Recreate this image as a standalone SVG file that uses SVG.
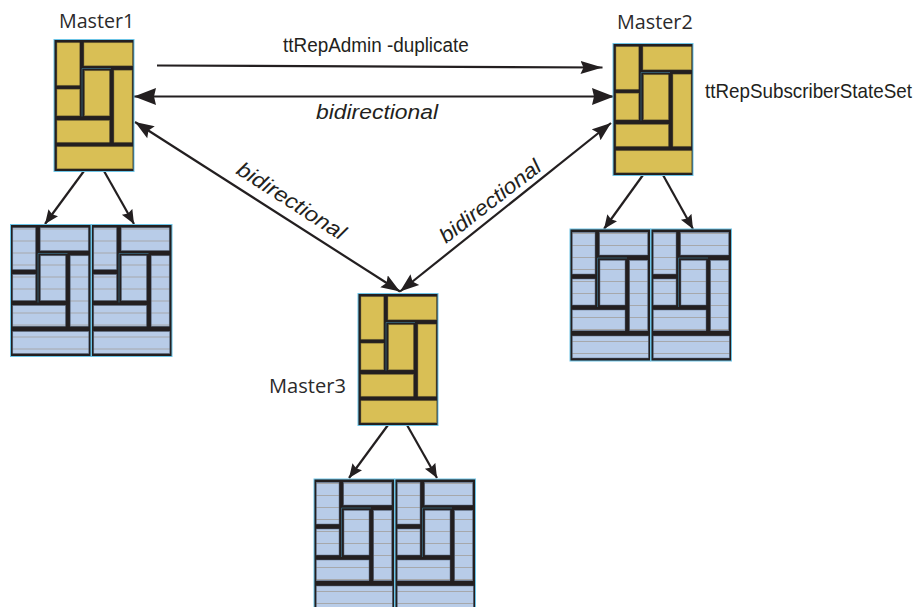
<svg xmlns="http://www.w3.org/2000/svg" xmlns:xlink="http://www.w3.org/1999/xlink" width="915" height="607" viewBox="0 0 915 607">
<style>
.lb{font-family:"Open Sans","Noto Sans",sans-serif;font-size:20.500px;fill:#2b2a2b}
.hv{font-family:"Liberation Sans",Arial,sans-serif;font-size:20px;fill:#231f20}
.it{font-family:"Liberation Sans",Arial,sans-serif;font-size:21px;font-style:italic;fill:#231f20}
.ln{stroke:#231f20;stroke-width:2.200;fill:none}
.big{marker-start:url(#hs);marker-end:url(#he)}
.dg{marker-start:url(#ds);marker-end:url(#de)}
.one{marker-end:url(#he2)}
.sub{marker-end:url(#hsm)}
.m{fill:#d9bf55;stroke:#8a7a3a;stroke-width:.5}
.s{fill:url(#bars);stroke:#5a6a80;stroke-width:.5}
.bg{fill:#231f20;stroke:#6cc4e6;stroke-width:1}
.th{stroke:#3f7f9c;stroke-width:.6;fill:none}
</style>
<defs>
<marker id="he" markerUnits="userSpaceOnUse" markerWidth="24" markerHeight="20" refX="22" refY="8.500" orient="auto"><path d="M0 0L22 8.500L0 17L2 8.500Z" fill="#231f20"/></marker>
<marker id="hs" markerUnits="userSpaceOnUse" markerWidth="24" markerHeight="20" refX="0" refY="8.500" orient="auto"><path d="M22 0L0 8.500L22 17L20 8.500Z" fill="#231f20"/></marker>
<marker id="de" markerUnits="userSpaceOnUse" markerWidth="22" markerHeight="16" refX="19" refY="7" orient="auto"><path d="M0 0L19 7L0 14L3 7Z" fill="#231f20"/></marker>
<marker id="ds" markerUnits="userSpaceOnUse" markerWidth="22" markerHeight="16" refX="0" refY="7" orient="auto"><path d="M19 0L0 7L19 14L16 7Z" fill="#231f20"/></marker>
<marker id="he2" markerUnits="userSpaceOnUse" markerWidth="24" markerHeight="16" refX="22" refY="6.500" orient="auto"><path d="M0 0L22 6.500L0 13L3 6.500Z" fill="#231f20"/></marker>
<marker id="hsm" markerUnits="userSpaceOnUse" markerWidth="16" markerHeight="14" refX="14" refY="6" orient="auto"><path d="M0 0L14 6L0 12L2 6Z" fill="#231f20"/></marker>
<pattern id="bars" patternUnits="userSpaceOnUse" width="12" height="12" y="4"><rect width="12" height="12" fill="#b8cce8"/><rect y="0" width="12" height="1" fill="#a6a8ab"/></pattern>
<g id="master">
<rect class="bg" x="0" y="0" width="80" height="132"/>
<rect class="m" x="3" y="3.300" width="22.700" height="42.400"/>
<rect class="m" x="30" y="3.300" width="48.300" height="23"/>
<rect class="m" x="3" y="49.700" width="22.700" height="26.600"/>
<rect class="m" x="30.700" y="31.300" width="24.600" height="45"/>
<rect class="m" x="60" y="30.700" width="18" height="72"/>
<rect class="m" x="3" y="81" width="52.300" height="21.700"/>
<rect class="m" x="3" y="107.300" width="75.700" height="22"/>
<path class="th" d="M28 77V29H57"/>
</g>
<g id="subscriber">
<rect class="bg" x="0" y="0" width="80.500" height="132"/>
<rect class="s" x="2.300" y="3.300" width="22.700" height="41.700"/>
<rect class="s" x="29.700" y="3.300" width="48" height="22.700"/>
<rect class="s" x="2.300" y="50" width="22.700" height="26"/>
<rect class="s" x="30" y="31.300" width="25" height="44.700"/>
<rect class="s" x="59.700" y="31.300" width="18" height="70.400"/>
<rect class="s" x="2.300" y="81" width="52.700" height="20.700"/>
<rect class="s" x="2.300" y="107" width="76" height="22"/>
<path class="th" d="M27.500 78V29H57"/>
</g>
</defs>
<g id="connectors">
<line class="ln one" x1="157" y1="65.500" x2="602.500" y2="67.500"/>
<line class="ln big" x1="134" y1="96.500" x2="614" y2="96.500"/>
<line class="ln dg" x1="135" y1="122" x2="400" y2="291.500"/>
<line class="ln dg" x1="400" y1="291.500" x2="611" y2="123"/>
<line class="ln sub" x1="84" y1="171" x2="45" y2="224"/>
<line class="ln sub" x1="104" y1="171" x2="134" y2="224"/>
<line class="ln sub" x1="643" y1="175" x2="604" y2="229"/>
<line class="ln sub" x1="663" y1="175" x2="693" y2="229"/>
<line class="ln sub" x1="388" y1="425" x2="349" y2="478"/>
<line class="ln sub" x1="407" y1="425" x2="437" y2="478"/>
</g>
<g id="master1"><use xlink:href="#master" href="#master" x="54" y="39.500"/><text class="lb" transform="translate(59 28) scale(.96 1)">Master1</text></g>
<g id="master2"><use xlink:href="#master" href="#master" x="613" y="43.500"/><text class="lb" transform="translate(617 29) scale(.965 1)">Master2</text><text class="hv" style="font-size:21px" transform="translate(705 98) scale(.896 1)">ttRepSubscriberStateSet</text></g>
<g id="master3"><use xlink:href="#master" href="#master" x="358" y="293.500"/><text class="lb" transform="translate(269 393) scale(.98 1)">Master3</text></g>
<g id="subs1a"><use xlink:href="#subscriber" href="#subscriber" x="10.500" y="224.500"/></g>
<g id="subs1b"><use xlink:href="#subscriber" href="#subscriber" x="91.500" y="224.500"/></g>
<g id="subs2a"><use xlink:href="#subscriber" href="#subscriber" x="570" y="229"/></g>
<g id="subs2b"><use xlink:href="#subscriber" href="#subscriber" x="651" y="229"/></g>
<g id="subs3a"><use xlink:href="#subscriber" href="#subscriber" x="314" y="479"/></g>
<g id="subs3b"><use xlink:href="#subscriber" href="#subscriber" x="395" y="479"/></g>
<g id="labels">
<text class="hv" transform="translate(283 52) scale(.945 1)">ttRepAdmin -duplicate</text>
<text class="it" transform="translate(316 118.500) scale(1.09 1)">bidirectional</text>
<text class="it" transform="translate(235 173) rotate(32.800) scale(1.115 1)">bidirectional</text>
<text class="it" transform="translate(446 244) rotate(-37.500) scale(1.09 1)">bidirectional</text>
</g>
</svg>
